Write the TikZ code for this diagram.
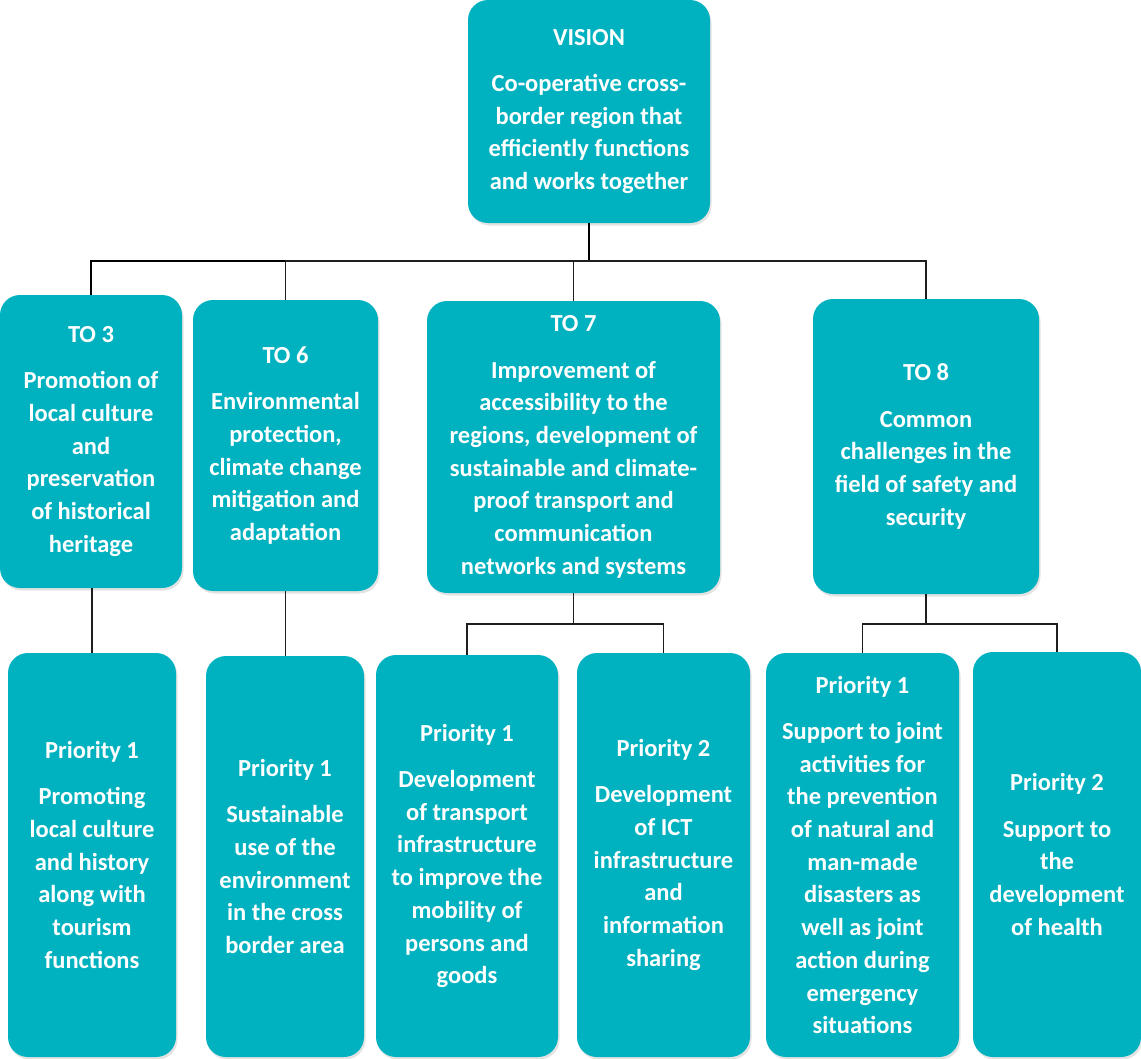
\documentclass[tikz,border=0pt]{standalone}
\usepackage{fontspec}
\setmainfont{Carlito}
\usetikzlibrary{shadows}
\definecolor{teal}{RGB}{0,178,191}
\definecolor{wire}{RGB}{30,30,30}
\begin{document}
\begin{tikzpicture}[x=1pt,y=-1pt,
  box/.style={fill=teal, rounded corners=20pt, inner sep=0pt, align=center,
    text=white, font=\fontsize{24.5}{32.7}\selectfont\bfseries,
    drop shadow={opacity=0.22, shadow xshift=1.5pt, shadow yshift=-2.5pt}},
  wire/.style={draw=wire, line width=1.5pt},
  mainwire/.style={draw=black, line width=2.3pt}]
\useasboundingbox (0,0) rectangle (1141,1058);

% vision
\node[box, minimum width=242pt, minimum height=223pt] (vis) at (589,111.5)
  {VISION\\[13.5pt]Co-operative cross-\\border region that\\efficiently functions\\and works together};

% thematic objectives
\node[box, minimum width=182pt, minimum height=293pt] (to3) at (91,441.5)
  {TO 3\\[13.5pt]Promotion of\\local culture\\and\\preservation\\of historical\\heritage};
\node[box, minimum width=185pt, minimum height=291pt] (to6) at (285.5,445.5)
  {TO 6\\[13.5pt]Environmental\\protection,\\climate change\\mitigation and\\adaptation};
\node[box, minimum width=293pt, minimum height=292pt] (to7) at (573.5,447)
  {TO 7\\[13.5pt]Improvement of\\accessibility to the\\regions, development of\\sustainable and climate-\\proof transport and\\communication\\networks and systems};
\node[box, minimum width=226pt, minimum height=295pt] (to8) at (926,446.5)
  {TO 8\\[13.5pt]Common\\challenges in the\\field of safety and\\security};

% priorities
\node[box, minimum width=168pt, minimum height=404pt] (pa) at (92,855)
  {Priority 1\\[13.5pt]Promoting\\local culture\\and history\\along with\\tourism\\functions};
\node[box, minimum width=158pt, minimum height=401pt] (pb) at (285,856.5)
  {Priority 1\\[13.5pt]Sustainable\\use of the\\environment\\in the cross\\border area};
\node[box, minimum width=182pt, minimum height=402pt] (pc) at (467,856)
  {Priority 1\\[13.5pt]Development\\of transport\\infrastructure\\to improve the\\mobility of\\persons and\\goods};
\node[box, minimum width=173pt, minimum height=404pt] (pd) at (663.5,855)
  {Priority 2\\[13.5pt]Development\\of ICT\\infrastructure\\and\\information\\sharing};
\node[box, minimum width=193pt, minimum height=404pt] (pe) at (862.5,855)
  {Priority 1\\[13.5pt]Support to joint\\activities for\\the prevention\\of natural and\\man-made\\disasters as\\well as joint\\action during\\emergency\\situations};
\node[box, minimum width=168pt, minimum height=405pt] (pf) at (1057,854.5)
  {Priority 2\\[13.5pt]Support to\\the\\development\\of health};

% connectors: vision to objectives
\draw[mainwire] (vis.south) -- ++(0,38) coordinate (bus) -| (to3.north);
\draw[wire] (bus) -| (to6.north);
\draw[wire] (bus) -| (to7.north);
\draw[wire] (bus) -| (to8.north);

% connectors: objectives to priorities
\draw[wire] (pa.north) -- (pa.north |- to3.south);
\draw[wire] (to6.south) -- (to6.south |- pb.north);
\draw[wire] (to7.south) -- ++(0,31) coordinate (b7) -| (pc.north);
\draw[wire] (b7) -| (pd.north);
\draw[wire] (to8.south) -- ++(0,30) coordinate (b8) -| (pe.north);
\draw[wire] (b8) -| (pf.north);
\end{tikzpicture}
\end{document}
